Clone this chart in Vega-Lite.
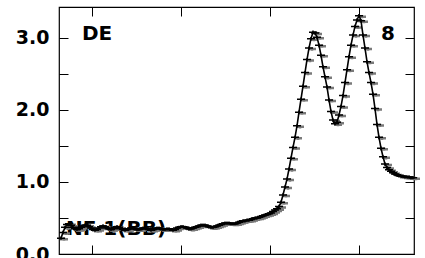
{
  "$schema": "https://vega.github.io/schema/vega-lite/v6.json",
  "width": 355,
  "height": 247,
  "autosize": {"type": "none"},
  "padding": {"left": 59, "top": 7, "right": 11, "bottom": 4},
  "background": "white",
  "config": {
    "view": {"stroke": "#000", "strokeWidth": 1.2},
    "axis": {"domain": false, "grid": false, "tickColor": "#000", "tickWidth": 1, "labelFont": "DejaVu Sans", "labelFontWeight": "bold", "labelFontSize": 19, "labelColor": "#000", "title": null}
  },
  "datasets": {
    "curve": [
      {"x":2,"v":0.22},{"x":4,"v":0.30},{"x":6,"v":0.37},{"x":8,"v":0.41},{"x":10,"v":0.42},{"x":12,"v":0.40},{"x":14,"v":0.37},{"x":16,"v":0.35},{"x":18,"v":0.34},{"x":20,"v":0.35},
      {"x":22,"v":0.37},{"x":24,"v":0.39},{"x":26,"v":0.40},{"x":28,"v":0.40},{"x":30,"v":0.38},{"x":32,"v":0.36},{"x":34,"v":0.34},{"x":36,"v":0.33},{"x":38,"v":0.34},{"x":40,"v":0.36},
      {"x":42,"v":0.38},{"x":44,"v":0.39},{"x":46,"v":0.38},{"x":48,"v":0.36},{"x":50,"v":0.35},{"x":52,"v":0.34},{"x":54,"v":0.35},{"x":56,"v":0.37},{"x":58,"v":0.38},{"x":60,"v":0.37},
      {"x":62,"v":0.35},{"x":64,"v":0.34},{"x":66,"v":0.33},{"x":68,"v":0.34},{"x":70,"v":0.35},{"x":72,"v":0.36},{"x":74,"v":0.36},{"x":76,"v":0.35},{"x":78,"v":0.34},{"x":80,"v":0.34},
      {"x":82,"v":0.35},{"x":84,"v":0.36},{"x":86,"v":0.36},{"x":88,"v":0.35},{"x":90,"v":0.34},{"x":92,"v":0.33},{"x":94,"v":0.34},{"x":96,"v":0.35},{"x":98,"v":0.36},{"x":100,"v":0.36},
      {"x":102,"v":0.35},{"x":104,"v":0.34},{"x":106,"v":0.34},{"x":108,"v":0.35},{"x":110,"v":0.35},{"x":112,"v":0.34},{"x":114,"v":0.33},{"x":116,"v":0.34},{"x":118,"v":0.36},{"x":120,"v":0.37},
      {"x":122,"v":0.38},{"x":124,"v":0.38},{"x":126,"v":0.37},{"x":128,"v":0.36},{"x":130,"v":0.35},{"x":132,"v":0.35},{"x":134,"v":0.36},{"x":136,"v":0.37},{"x":138,"v":0.38},{"x":140,"v":0.39},
      {"x":142,"v":0.40},{"x":144,"v":0.40},{"x":146,"v":0.40},{"x":148,"v":0.39},{"x":150,"v":0.38},{"x":152,"v":0.37},{"x":154,"v":0.37},{"x":156,"v":0.38},{"x":158,"v":0.39},{"x":160,"v":0.40},
      {"x":162,"v":0.41},{"x":164,"v":0.42},{"x":166,"v":0.43},{"x":168,"v":0.43},{"x":170,"v":0.43},{"x":172,"v":0.42},{"x":174,"v":0.42},{"x":176,"v":0.42},{"x":178,"v":0.43},{"x":180,"v":0.44},
      {"x":182,"v":0.45},{"x":184,"v":0.46},{"x":186,"v":0.46},{"x":188,"v":0.47},{"x":190,"v":0.47},{"x":192,"v":0.48},{"x":194,"v":0.49},{"x":196,"v":0.50},{"x":198,"v":0.50},{"x":200,"v":0.51},
      {"x":202,"v":0.52},{"x":204,"v":0.53},{"x":206,"v":0.54},{"x":208,"v":0.55},{"x":210,"v":0.56},{"x":212,"v":0.57},{"x":214,"v":0.59},{"x":216,"v":0.61},{"x":218,"v":0.63},{"x":220,"v":0.66},
      {"x":222,"v":0.72},{"x":224,"v":0.82},{"x":226,"v":0.93},{"x":228,"v":1.04},{"x":230,"v":1.18},{"x":232,"v":1.33},{"x":234,"v":1.48},{"x":236,"v":1.62},{"x":238,"v":1.78},{"x":240,"v":1.97},
      {"x":242,"v":2.15},{"x":244,"v":2.33},{"x":246,"v":2.52},{"x":248,"v":2.70},{"x":250,"v":2.86},{"x":252,"v":2.99},{"x":254,"v":3.08},{"x":256,"v":3.07},{"x":258,"v":3.01},{"x":260,"v":2.90},
      {"x":262,"v":2.76},{"x":264,"v":2.60},{"x":266,"v":2.46},{"x":268,"v":2.32},{"x":270,"v":2.14},{"x":272,"v":1.98},{"x":274,"v":1.86},{"x":276,"v":1.81},{"x":278,"v":1.83},{"x":280,"v":1.93},
      {"x":282,"v":2.05},{"x":284,"v":2.20},{"x":286,"v":2.38},{"x":288,"v":2.56},{"x":290,"v":2.74},{"x":292,"v":2.90},{"x":294,"v":3.04},{"x":296,"v":3.16},{"x":298,"v":3.25},{"x":300,"v":3.31},
      {"x":302,"v":3.24},{"x":304,"v":3.04},{"x":306,"v":2.86},{"x":308,"v":2.67},{"x":310,"v":2.52},{"x":312,"v":2.38},{"x":314,"v":2.22},{"x":316,"v":2.02},{"x":318,"v":1.80},{"x":320,"v":1.62},
      {"x":322,"v":1.47},{"x":324,"v":1.35},{"x":326,"v":1.25},{"x":328,"v":1.20},{"x":330,"v":1.17},{"x":332,"v":1.15},{"x":334,"v":1.13},{"x":336,"v":1.11},{"x":338,"v":1.10},{"x":340,"v":1.09},
      {"x":342,"v":1.08},{"x":344,"v":1.08},{"x":346,"v":1.07},{"x":348,"v":1.07},{"x":350,"v":1.07},{"x":352,"v":1.06},{"x":354,"v":1.06}
    ],
    "labelsLeft": [
      {"x": 23, "v": 2.97, "label": "DE"},
      {"x": 7, "v": 0.27, "label": "NF 1(BB)"}
    ],
    "labelsRight": [
      {"x": 336, "v": 2.97, "label": "8"}
    ]
  },
  "layer": [
    {
      "data": {"name": "labelsLeft"},
      "mark": {"type": "text", "align": "left", "baseline": "alphabetic", "font": "DejaVu Sans", "fontWeight": "bold", "fontSize": 20, "color": "#000"},
      "encoding": {
        "x": {"field": "x", "type": "quantitative", "scale": {"domain": [0, 355], "nice": false, "zero": false}, "axis": null},
        "y": {"field": "v", "type": "quantitative", "scale": {"domain": [0, 3.43], "nice": false, "zero": false}, "axis": null},
        "text": {"field": "label"}
      }
    },
    {
      "data": {"name": "labelsRight"},
      "mark": {"type": "text", "align": "right", "baseline": "alphabetic", "font": "DejaVu Sans", "fontWeight": "bold", "fontSize": 20, "color": "#000"},
      "encoding": {
        "x": {"field": "x", "type": "quantitative", "axis": null},
        "y": {"field": "v", "type": "quantitative", "axis": null},
        "text": {"field": "label"}
      }
    },
    {
      "data": {"name": "curve"},
      "mark": {"type": "point", "shape": "M-1,0H1M0,-0.4V0.4", "filled": false, "size": 64, "stroke": "#7a7a7a", "strokeWidth": 2.5, "opacity": 1, "xOffset": 3, "yOffset": 1},
      "encoding": {
        "x": {"field": "x", "type": "quantitative", "axis": null},
        "y": {"field": "v", "type": "quantitative", "axis": null}
      }
    },
    {
      "data": {"name": "curve"},
      "mark": {"type": "line", "color": "#000", "strokeWidth": 1.6},
      "encoding": {
        "x": {"field": "x", "type": "quantitative", "axis": {"orient": "bottom", "values": [33, 122, 211, 300], "labels": false, "tickSize": -9}},
        "y": {"field": "v", "type": "quantitative", "axis": {"orient": "left", "values": [0, 0.5, 1, 1.5, 2, 2.5, 3], "tickSize": -9, "labelPadding": 19, "labelExpr": "datum.value % 1 === 0 ? format(datum.value, '.1f') : ''"}}
      }
    },
    {
      "data": {"name": "curve"},
      "mark": {"type": "point", "shape": "M-1,0H1M0,-0.4V0.4", "filled": false, "size": 64, "stroke": "#000", "strokeWidth": 1.5, "opacity": 1},
      "encoding": {
        "x": {"field": "x", "type": "quantitative", "axis": {"orient": "top", "values": [33, 122, 211, 300], "labels": false, "tickSize": -9}},
        "y": {"field": "v", "type": "quantitative", "axis": {"orient": "right", "values": [0, 0.5, 1, 1.5, 2, 2.5, 3], "labels": false, "tickSize": -9}}
      }
    }
  ],
  "resolve": {"axis": {"x": "independent", "y": "independent"}}
}
